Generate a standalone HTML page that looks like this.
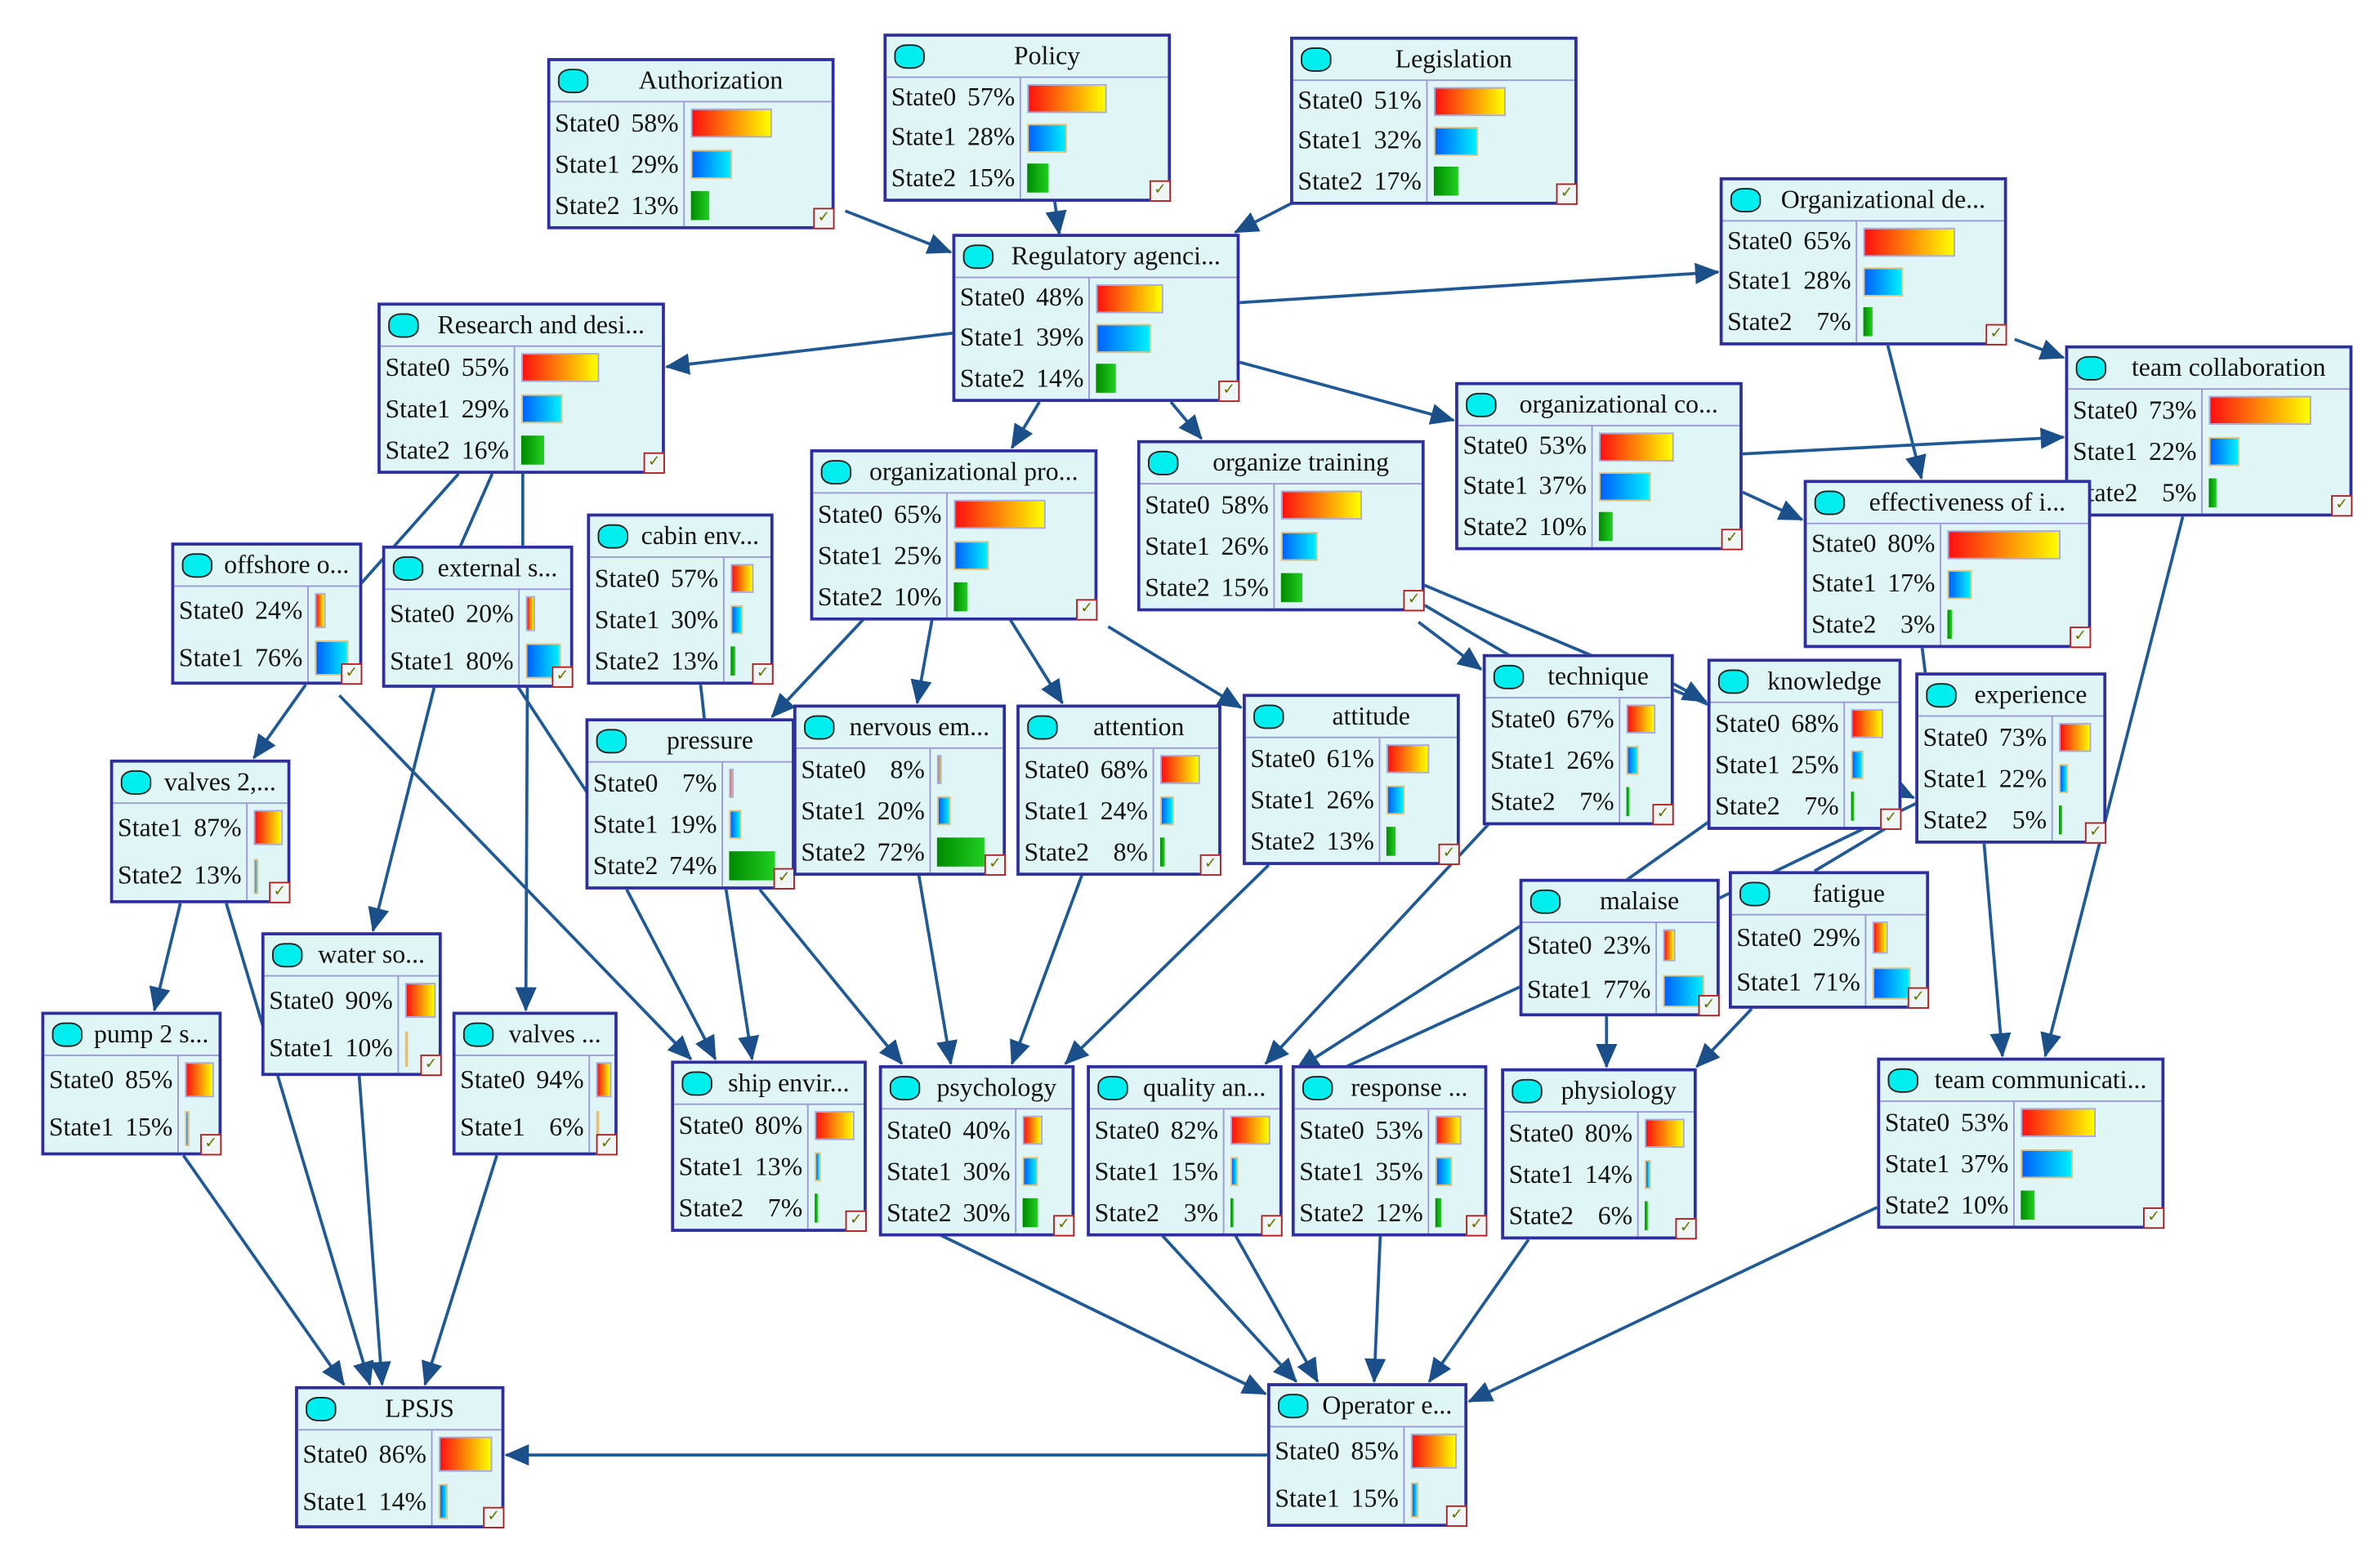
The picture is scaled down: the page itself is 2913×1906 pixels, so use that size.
<!DOCTYPE html>
<html><head><meta charset="utf-8">
<style>
html,body{margin:0;padding:0;background:#fff;width:2913px;height:1906px;overflow:hidden}
#w{position:absolute;left:0;top:0;width:1557px;height:1019px;transform:scale(1.8709);transform-origin:0 0}
svg{position:absolute;left:0;top:0}
.n{position:absolute;background:#e0f6f6;border:2px solid #2e2e9e;box-sizing:border-box;display:flex;flex-direction:column;font-family:"Liberation Serif",serif;font-size:17px;color:#111}
.h{height:26px;flex:none;border-bottom:1.5px solid #9a9ad8;display:flex;align-items:center;white-space:nowrap;overflow:hidden}
.h i{width:18px;height:14px;background:#00eeee;border:1.5px solid #222;border-radius:40%;margin:0 5px 0 5px;flex:none}
.h em{font-style:normal;flex:1;text-align:center;padding-right:4px}
.r{flex:1;display:flex;align-items:center}
.r span{width:88px;flex:none;box-sizing:border-box;padding:0 3px;display:flex;justify-content:space-between;border-right:1.5px solid #9a9ad8;height:100%;align-items:center}
.r b{margin-left:4px;height:72%;min-width:2px;box-sizing:border-box}
.b0{background:linear-gradient(90deg,#ff1010,#ffff00);border:1px solid #a8a8e0}
.b1{background:linear-gradient(90deg,#0060ff,#00f0ff);border:1px solid #e0c080}
.b2{background:linear-gradient(90deg,#008a00,#20d020)}
.c{position:absolute;right:-2px;bottom:-2px;width:14px;height:14px;border:1.5px solid #b02020;box-sizing:border-box;background:#eef6f6;font-family:"DejaVu Sans",sans-serif;font-size:10px;color:#6b7000;line-height:11px;text-align:center;font-weight:bold}
</style></head><body>
<div id="w">
<svg width="1557" height="1019" viewBox="0 0 1557 1019">
<defs><marker id="a" markerUnits="userSpaceOnUse" markerWidth="16" markerHeight="14" refX="15" refY="7" orient="auto"><path d="M0,0 L16,7 L0,14 Z" fill="#1a4f8a"/></marker></defs>
<g stroke="#1f5a96" stroke-width="2" fill="none">
<line x1="553" y1="138" x2="622" y2="165" marker-end="url(#a)"/>
<line x1="690" y1="132" x2="693" y2="153" marker-end="url(#a)"/>
<line x1="845" y1="133" x2="808" y2="152" marker-end="url(#a)"/>
<line x1="811" y1="198" x2="1124" y2="178" marker-end="url(#a)"/>
<line x1="623" y1="218" x2="436" y2="240" marker-end="url(#a)"/>
<line x1="680" y1="263" x2="662" y2="293" marker-end="url(#a)"/>
<line x1="766" y1="263" x2="786" y2="287" marker-end="url(#a)"/>
<line x1="811" y1="237" x2="951" y2="275" marker-end="url(#a)"/>
<line x1="1318" y1="222" x2="1350" y2="234" marker-end="url(#a)"/>
<line x1="1235" y1="226" x2="1257" y2="313" marker-end="url(#a)"/>
<line x1="1140" y1="297" x2="1350" y2="286" marker-end="url(#a)"/>
<line x1="1140" y1="322" x2="1179" y2="340" marker-end="url(#a)"/>
<line x1="1428" y1="338" x2="1338" y2="691" marker-end="url(#a)"/>
<line x1="300" y1="310" x2="220" y2="400"/>
<line x1="322" y1="310" x2="300" y2="360"/>
<line x1="342" y1="310" x2="342" y2="360"/>
<line x1="200" y1="448" x2="166" y2="496" marker-end="url(#a)"/>
<line x1="222" y1="455" x2="452" y2="693" marker-end="url(#a)"/>
<line x1="284" y1="450" x2="244" y2="609" marker-end="url(#a)"/>
<line x1="345" y1="450" x2="344" y2="661" marker-end="url(#a)"/>
<line x1="336" y1="445" x2="385" y2="520"/>
<line x1="458" y1="445" x2="461" y2="472"/>
<line x1="566" y1="404" x2="505" y2="469" marker-end="url(#a)"/>
<line x1="610" y1="404" x2="600" y2="460" marker-end="url(#a)"/>
<line x1="660" y1="404" x2="695" y2="460" marker-end="url(#a)"/>
<line x1="725" y1="410" x2="812" y2="463" marker-end="url(#a)"/>
<line x1="928" y1="407" x2="969" y2="438" marker-end="url(#a)"/>
<line x1="925" y1="380" x2="1120" y2="462"/>
<line x1="932" y1="396" x2="1040" y2="460"/>
<line x1="1094" y1="447" x2="1116" y2="459" marker-end="url(#a)"/>
<line x1="1238" y1="515" x2="1252" y2="522" marker-end="url(#a)"/>
<line x1="1257" y1="420" x2="1260" y2="444"/>
<line x1="1133" y1="527" x2="1061" y2="578"/>
<line x1="1237" y1="540" x2="1187" y2="570"/>
<line x1="1255" y1="525" x2="1120" y2="590"/>
<line x1="975" y1="538" x2="828" y2="696" marker-end="url(#a)"/>
<line x1="996" y1="605" x2="848" y2="700" marker-end="url(#a)"/>
<line x1="996" y1="645" x2="850" y2="712" marker-end="url(#a)"/>
<line x1="1298" y1="552" x2="1310" y2="691" marker-end="url(#a)"/>
<line x1="1051" y1="665" x2="1051" y2="698" marker-end="url(#a)"/>
<line x1="1146" y1="660" x2="1110" y2="698" marker-end="url(#a)"/>
<line x1="118" y1="591" x2="101" y2="661" marker-end="url(#a)"/>
<line x1="148" y1="591" x2="242" y2="906" marker-end="url(#a)"/>
<line x1="120" y1="756" x2="225" y2="906" marker-end="url(#a)"/>
<line x1="235" y1="704" x2="250" y2="906" marker-end="url(#a)"/>
<line x1="325" y1="756" x2="278" y2="906" marker-end="url(#a)"/>
<line x1="829" y1="952" x2="331" y2="952" marker-end="url(#a)"/>
<line x1="410" y1="582" x2="468" y2="693" marker-end="url(#a)"/>
<line x1="475" y1="582" x2="492" y2="693" marker-end="url(#a)"/>
<line x1="497" y1="582" x2="590" y2="696" marker-end="url(#a)"/>
<line x1="601" y1="572" x2="622" y2="696" marker-end="url(#a)"/>
<line x1="708" y1="572" x2="662" y2="696" marker-end="url(#a)"/>
<line x1="830" y1="566" x2="697" y2="696" marker-end="url(#a)"/>
<line x1="615" y1="808" x2="828" y2="912" marker-end="url(#a)"/>
<line x1="760" y1="808" x2="848" y2="904" marker-end="url(#a)"/>
<line x1="808" y1="808" x2="862" y2="904" marker-end="url(#a)"/>
<line x1="903" y1="808" x2="899" y2="904" marker-end="url(#a)"/>
<line x1="1000" y1="811" x2="935" y2="904" marker-end="url(#a)"/>
<line x1="1228" y1="790" x2="961" y2="917" marker-end="url(#a)"/>
</g></svg>

<div class="n" style="left:358px;top:38px;width:188px;height:112px"><div class="h"><i></i><em>Authorization</em></div><div class="r"><span>State0<a>58%</a></span><b class="b0" style="width:53px"></b></div><div class="r"><span>State1<a>29%</a></span><b class="b1" style="width:27px"></b></div><div class="r"><span>State2<a>13%</a></span><b class="b2" style="width:12px"></b></div><div class="c">✓</div></div>
<div class="n" style="left:578px;top:22px;width:188px;height:110px"><div class="h"><i></i><em>Policy</em></div><div class="r"><span>State0<a>57%</a></span><b class="b0" style="width:52px"></b></div><div class="r"><span>State1<a>28%</a></span><b class="b1" style="width:26px"></b></div><div class="r"><span>State2<a>15%</a></span><b class="b2" style="width:14px"></b></div><div class="c">✓</div></div>
<div class="n" style="left:844px;top:24px;width:188px;height:110px"><div class="h"><i></i><em>Legislation</em></div><div class="r"><span>State0<a>51%</a></span><b class="b0" style="width:47px"></b></div><div class="r"><span>State1<a>32%</a></span><b class="b1" style="width:29px"></b></div><div class="r"><span>State2<a>17%</a></span><b class="b2" style="width:16px"></b></div><div class="c">✓</div></div>
<div class="n" style="left:623px;top:153px;width:188px;height:110px"><div class="h"><i></i><em>Regulatory agenci...</em></div><div class="r"><span>State0<a>48%</a></span><b class="b0" style="width:44px"></b></div><div class="r"><span>State1<a>39%</a></span><b class="b1" style="width:36px"></b></div><div class="r"><span>State2<a>14%</a></span><b class="b2" style="width:13px"></b></div><div class="c">✓</div></div>
<div class="n" style="left:1125px;top:116px;width:188px;height:110px"><div class="h"><i></i><em>Organizational de...</em></div><div class="r"><span>State0<a>65%</a></span><b class="b0" style="width:60px"></b></div><div class="r"><span>State1<a>28%</a></span><b class="b1" style="width:26px"></b></div><div class="r"><span>State2<a>7%</a></span><b class="b2" style="width:6px"></b></div><div class="c">✓</div></div>
<div class="n" style="left:247px;top:198px;width:188px;height:112px"><div class="h"><i></i><em>Research and desi...</em></div><div class="r"><span>State0<a>55%</a></span><b class="b0" style="width:51px"></b></div><div class="r"><span>State1<a>29%</a></span><b class="b1" style="width:27px"></b></div><div class="r"><span>State2<a>16%</a></span><b class="b2" style="width:15px"></b></div><div class="c">✓</div></div>
<div class="n" style="left:1351px;top:226px;width:188px;height:112px"><div class="h"><i></i><em>team collaboration</em></div><div class="r"><span>State0<a>73%</a></span><b class="b0" style="width:67px"></b></div><div class="r"><span>State1<a>22%</a></span><b class="b1" style="width:20px"></b></div><div class="r"><span>State2<a>5%</a></span><b class="b2" style="width:5px"></b></div><div class="c">✓</div></div>
<div class="n" style="left:952px;top:250px;width:188px;height:110px"><div class="h"><i></i><em>organizational co...</em></div><div class="r"><span>State0<a>53%</a></span><b class="b0" style="width:49px"></b></div><div class="r"><span>State1<a>37%</a></span><b class="b1" style="width:34px"></b></div><div class="r"><span>State2<a>10%</a></span><b class="b2" style="width:9px"></b></div><div class="c">✓</div></div>
<div class="n" style="left:530px;top:294px;width:188px;height:112px"><div class="h"><i></i><em>organizational pro...</em></div><div class="r"><span>State0<a>65%</a></span><b class="b0" style="width:60px"></b></div><div class="r"><span>State1<a>25%</a></span><b class="b1" style="width:23px"></b></div><div class="r"><span>State2<a>10%</a></span><b class="b2" style="width:9px"></b></div><div class="c">✓</div></div>
<div class="n" style="left:744px;top:288px;width:188px;height:112px"><div class="h"><i></i><em>organize training</em></div><div class="r"><span>State0<a>58%</a></span><b class="b0" style="width:53px"></b></div><div class="r"><span>State1<a>26%</a></span><b class="b1" style="width:24px"></b></div><div class="r"><span>State2<a>15%</a></span><b class="b2" style="width:14px"></b></div><div class="c">✓</div></div>
<div class="n" style="left:1180px;top:314px;width:188px;height:110px"><div class="h"><i></i><em>effectiveness of i...</em></div><div class="r"><span>State0<a>80%</a></span><b class="b0" style="width:74px"></b></div><div class="r"><span>State1<a>17%</a></span><b class="b1" style="width:16px"></b></div><div class="r"><span>State2<a>3%</a></span><b class="b2" style="width:3px"></b></div><div class="c">✓</div></div>
<div class="n" style="left:112px;top:355px;width:125px;height:93px"><div class="h"><i></i><em>offshore o...</em></div><div class="r"><span>State0<a>24%</a></span><b class="b0" style="width:7px"></b></div><div class="r"><span>State1<a>76%</a></span><b class="b1" style="width:22px"></b></div><div class="c">✓</div></div>
<div class="n" style="left:250px;top:357px;width:125px;height:93px"><div class="h"><i></i><em>external s...</em></div><div class="r"><span>State0<a>20%</a></span><b class="b0" style="width:6px"></b></div><div class="r"><span>State1<a>80%</a></span><b class="b1" style="width:23px"></b></div><div class="c">✓</div></div>
<div class="n" style="left:384px;top:336px;width:122px;height:112px"><div class="h"><i></i><em>cabin env...</em></div><div class="r"><span>State0<a>57%</a></span><b class="b0" style="width:15px"></b></div><div class="r"><span>State1<a>30%</a></span><b class="b1" style="width:8px"></b></div><div class="r"><span>State2<a>13%</a></span><b class="b2" style="width:3px"></b></div><div class="c">✓</div></div>
<div class="n" style="left:970px;top:428px;width:125px;height:112px"><div class="h"><i></i><em>technique</em></div><div class="r"><span>State0<a>67%</a></span><b class="b0" style="width:19px"></b></div><div class="r"><span>State1<a>26%</a></span><b class="b1" style="width:8px"></b></div><div class="r"><span>State2<a>7%</a></span><b class="b2" style="width:2px"></b></div><div class="c">✓</div></div>
<div class="n" style="left:1117px;top:431px;width:127px;height:112px"><div class="h"><i></i><em>knowledge</em></div><div class="r"><span>State0<a>68%</a></span><b class="b0" style="width:21px"></b></div><div class="r"><span>State1<a>25%</a></span><b class="b1" style="width:8px"></b></div><div class="r"><span>State2<a>7%</a></span><b class="b2" style="width:2px"></b></div><div class="c">✓</div></div>
<div class="n" style="left:1253px;top:440px;width:125px;height:112px"><div class="h"><i></i><em>experience</em></div><div class="r"><span>State0<a>73%</a></span><b class="b0" style="width:21px"></b></div><div class="r"><span>State1<a>22%</a></span><b class="b1" style="width:6px"></b></div><div class="r"><span>State2<a>5%</a></span><b class="b2" style="width:2px"></b></div><div class="c">✓</div></div>
<div class="n" style="left:383px;top:470px;width:137px;height:112px"><div class="h"><i></i><em>pressure</em></div><div class="r"><span>State0<a>7%</a></span><b class="b0" style="width:3px"></b></div><div class="r"><span>State1<a>19%</a></span><b class="b1" style="width:8px"></b></div><div class="r"><span>State2<a>74%</a></span><b class="b2" style="width:30px"></b></div><div class="c">✓</div></div>
<div class="n" style="left:519px;top:461px;width:139px;height:112px"><div class="h"><i></i><em>nervous em...</em></div><div class="r"><span>State0<a>8%</a></span><b class="b0" style="width:3px"></b></div><div class="r"><span>State1<a>20%</a></span><b class="b1" style="width:9px"></b></div><div class="r"><span>State2<a>72%</a></span><b class="b2" style="width:31px"></b></div><div class="c">✓</div></div>
<div class="n" style="left:665px;top:461px;width:134px;height:112px"><div class="h"><i></i><em>attention</em></div><div class="r"><span>State0<a>68%</a></span><b class="b0" style="width:26px"></b></div><div class="r"><span>State1<a>24%</a></span><b class="b1" style="width:9px"></b></div><div class="r"><span>State2<a>8%</a></span><b class="b2" style="width:3px"></b></div><div class="c">✓</div></div>
<div class="n" style="left:813px;top:454px;width:142px;height:112px"><div class="h"><i></i><em>attitude</em></div><div class="r"><span>State0<a>61%</a></span><b class="b0" style="width:28px"></b></div><div class="r"><span>State1<a>26%</a></span><b class="b1" style="width:12px"></b></div><div class="r"><span>State2<a>13%</a></span><b class="b2" style="width:6px"></b></div><div class="c">✓</div></div>
<div class="n" style="left:72px;top:497px;width:118px;height:94px"><div class="h"><i></i><em>valves 2,...</em></div><div class="r"><span>State1<a>87%</a></span><b class="b0" style="width:19px"></b></div><div class="r"><span>State2<a>13%</a></span><b class="b1" style="width:3px"></b></div><div class="c">✓</div></div>
<div class="n" style="left:994px;top:575px;width:131px;height:90px"><div class="h"><i></i><em>malaise</em></div><div class="r"><span>State0<a>23%</a></span><b class="b0" style="width:8px"></b></div><div class="r"><span>State1<a>77%</a></span><b class="b1" style="width:27px"></b></div><div class="c">✓</div></div>
<div class="n" style="left:1131px;top:570px;width:131px;height:90px"><div class="h"><i></i><em>fatigue</em></div><div class="r"><span>State0<a>29%</a></span><b class="b0" style="width:10px"></b></div><div class="r"><span>State1<a>71%</a></span><b class="b1" style="width:25px"></b></div><div class="c">✓</div></div>
<div class="n" style="left:171px;top:610px;width:118px;height:94px"><div class="h"><i></i><em>water so...</em></div><div class="r"><span>State0<a>90%</a></span><b class="b0" style="width:20px"></b></div><div class="r"><span>State1<a>10%</a></span><b class="b1" style="width:2px"></b></div><div class="c">✓</div></div>
<div class="n" style="left:27px;top:662px;width:118px;height:94px"><div class="h"><i></i><em>pump 2 s...</em></div><div class="r"><span>State0<a>85%</a></span><b class="b0" style="width:19px"></b></div><div class="r"><span>State1<a>15%</a></span><b class="b1" style="width:3px"></b></div><div class="c">✓</div></div>
<div class="n" style="left:296px;top:662px;width:108px;height:94px"><div class="h"><i></i><em>valves ...</em></div><div class="r"><span>State0<a>94%</a></span><b class="b0" style="width:10px"></b></div><div class="r"><span>State1<a>6%</a></span><b class="b1" style="width:2px"></b></div><div class="c">✓</div></div>
<div class="n" style="left:439px;top:694px;width:128px;height:112px"><div class="h"><i></i><em>ship envir...</em></div><div class="r"><span>State0<a>80%</a></span><b class="b0" style="width:26px"></b></div><div class="r"><span>State1<a>13%</a></span><b class="b1" style="width:4px"></b></div><div class="r"><span>State2<a>7%</a></span><b class="b2" style="width:2px"></b></div><div class="c">✓</div></div>
<div class="n" style="left:575px;top:697px;width:128px;height:112px"><div class="h"><i></i><em>psychology</em></div><div class="r"><span>State0<a>40%</a></span><b class="b0" style="width:13px"></b></div><div class="r"><span>State1<a>30%</a></span><b class="b1" style="width:10px"></b></div><div class="r"><span>State2<a>30%</a></span><b class="b2" style="width:10px"></b></div><div class="c">✓</div></div>
<div class="n" style="left:711px;top:697px;width:128px;height:112px"><div class="h"><i></i><em>quality an...</em></div><div class="r"><span>State0<a>82%</a></span><b class="b0" style="width:26px"></b></div><div class="r"><span>State1<a>15%</a></span><b class="b1" style="width:5px"></b></div><div class="r"><span>State2<a>3%</a></span><b class="b2" style="width:2px"></b></div><div class="c">✓</div></div>
<div class="n" style="left:845px;top:697px;width:128px;height:112px"><div class="h"><i></i><em>response ...</em></div><div class="r"><span>State0<a>53%</a></span><b class="b0" style="width:17px"></b></div><div class="r"><span>State1<a>35%</a></span><b class="b1" style="width:11px"></b></div><div class="r"><span>State2<a>12%</a></span><b class="b2" style="width:4px"></b></div><div class="c">✓</div></div>
<div class="n" style="left:982px;top:699px;width:128px;height:112px"><div class="h"><i></i><em>physiology</em></div><div class="r"><span>State0<a>80%</a></span><b class="b0" style="width:26px"></b></div><div class="r"><span>State1<a>14%</a></span><b class="b1" style="width:4px"></b></div><div class="r"><span>State2<a>6%</a></span><b class="b2" style="width:2px"></b></div><div class="c">✓</div></div>
<div class="n" style="left:1228px;top:692px;width:188px;height:112px"><div class="h"><i></i><em>team communicati...</em></div><div class="r"><span>State0<a>53%</a></span><b class="b0" style="width:49px"></b></div><div class="r"><span>State1<a>37%</a></span><b class="b1" style="width:34px"></b></div><div class="r"><span>State2<a>10%</a></span><b class="b2" style="width:9px"></b></div><div class="c">✓</div></div>
<div class="n" style="left:193px;top:907px;width:137px;height:93px"><div class="h"><i></i><em>LPSJS</em></div><div class="r"><span>State0<a>86%</a></span><b class="b0" style="width:35px"></b></div><div class="r"><span>State1<a>14%</a></span><b class="b1" style="width:6px"></b></div><div class="c">✓</div></div>
<div class="n" style="left:829px;top:905px;width:131px;height:94px"><div class="h"><i></i><em>Operator e...</em></div><div class="r"><span>State0<a>85%</a></span><b class="b0" style="width:30px"></b></div><div class="r"><span>State1<a>15%</a></span><b class="b1" style="width:5px"></b></div><div class="c">✓</div></div>
</div>
</body></html>
